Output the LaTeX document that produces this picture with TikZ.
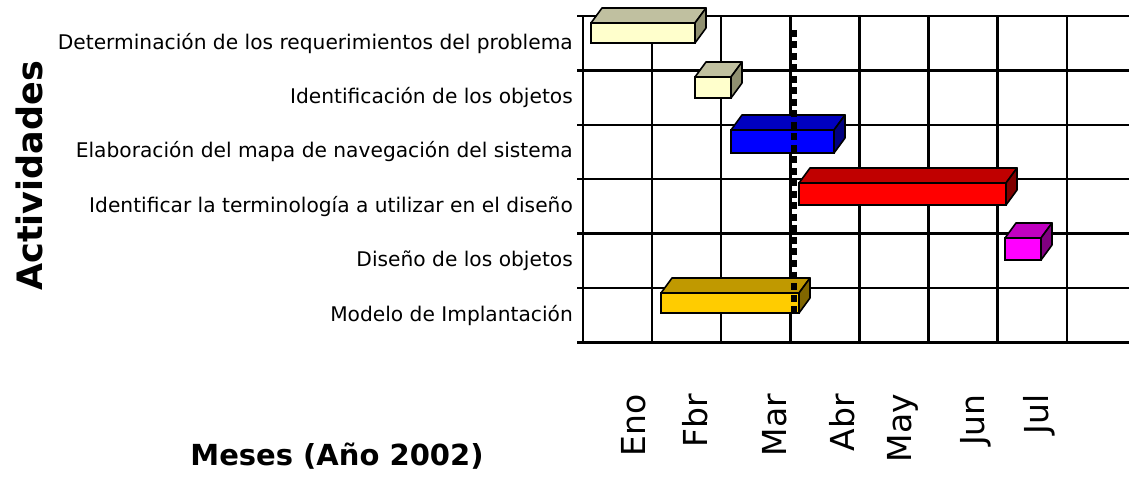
\documentclass[tikz,border=0pt]{standalone}
\usepackage{fontspec}
\setmainfont{DejaVu Sans}
\usepackage{tikz}

\definecolor{paleface}{HTML}{FFFFCC}
\definecolor{paletop}{HTML}{C0C0A0}
\definecolor{paleside}{HTML}{909070}
\definecolor{blueface}{HTML}{0000FF}
\definecolor{bluetop}{HTML}{0000C0}
\definecolor{blueside}{HTML}{000080}
\definecolor{redface}{HTML}{FF0000}
\definecolor{redtop}{HTML}{C00000}
\definecolor{redside}{HTML}{800000}
\definecolor{pinkface}{HTML}{FF00FF}
\definecolor{pinktop}{HTML}{C000C0}
\definecolor{pinkside}{HTML}{800080}
\definecolor{goldface}{HTML}{FFCC00}
\definecolor{goldtop}{HTML}{C09900}
\definecolor{goldside}{HTML}{806600}

% x1 y1 x2 y2 face top side
\newcommand{\ganttbox}[7]{
  \filldraw[fill=#6, line width=1.6pt, line join=round]
    (#1,#2) -- (#1+11,#2-15) -- (#3+11,#2-15) -- (#3,#2) -- cycle;
  \filldraw[fill=#7, line width=1.6pt, line join=round]
    (#3,#2) -- (#3+11,#2-15) -- (#3+11,#4-15) -- (#3,#4) -- cycle;
  \filldraw[fill=#5, line width=1.6pt] (#1,#2) rectangle (#3,#4);
}

\tikzset{
  task/.style={anchor=east, inner sep=0pt, font=\fontsize{20.2}{24}\selectfont},
  month/.style={rotate=90, anchor=base east, inner sep=0pt, font=\fontsize{33}{38}\selectfont},
  axistitle/.style={inner sep=0pt, font=\bfseries\fontsize{29}{33}\selectfont}
}

\begin{document}
\begin{tikzpicture}[x=1pt, y=-1pt]
    \useasboundingbox (0,0) rectangle (1129,478);
    \begin{scope}
      % grid
      \foreach \i in {0,...,7}
        \draw[line width=2.4pt] (583+69.1*\i,16) -- (583+69.1*\i,344);
      \foreach \j in {0,...,6}
        \draw[line width=2.4pt] (577,16+54.4*\j) -- (1129,16+54.4*\j);

      % bars
      \ganttbox{591}{23}{695}{43}{paleface}{paletop}{paleside}
      \ganttbox{695}{77}{731}{98}{paleface}{paletop}{paleside}
      \ganttbox{731}{130}{834}{153}{blueface}{bluetop}{blueside}
      \ganttbox{799}{183}{1006}{205}{redface}{redtop}{redside}
      \ganttbox{1005}{238}{1041}{260}{pinkface}{pinktop}{pinkside}
      \ganttbox{661}{293}{799}{313}{goldface}{goldtop}{goldside}

      % today line
      \draw[line width=6pt, dash pattern=on 7pt off 4.5pt] (794,30) -- (794,313);

      \node[task] (t1) at (573,43.2) {Determinación de los requerimientos del problema};
      \node[task] (t2) at (573,97.6) {Identificación de los objetos};
      \node[task] (t3) at (573,152) {Elaboración del mapa de navegación del sistema};
      \node[task] (t4) at (573,206.4) {Identificar la terminología a utilizar en el diseño};
      \node[task] (t5) at (573,260.8) {Diseño de los objetos};
      \node[task] (t6) at (573,315.2) {Modelo de Implantación};

      \node[month] (eno) at (645,394) {Eno};
      \node[month] (fbr) at (707,394) {Fbr};
      \node[month] (mar) at (786,394) {Mar};
      \node[month] (abr) at (854,394) {Abr};
      \node[month] (may) at (911,394) {May};
      \node[month] (jun) at (984,394) {Jun};
      \node[month] (jul) at (1048,394) {Jul};

      \node[axistitle, rotate=90, font=\bfseries\fontsize{35}{39}\selectfont] (act) at (29,176) {Actividades};
      \node[axistitle] (meses) at (337,456) {Meses (Año 2002)};
    \end{scope}
  \end{tikzpicture}
\end{document}
